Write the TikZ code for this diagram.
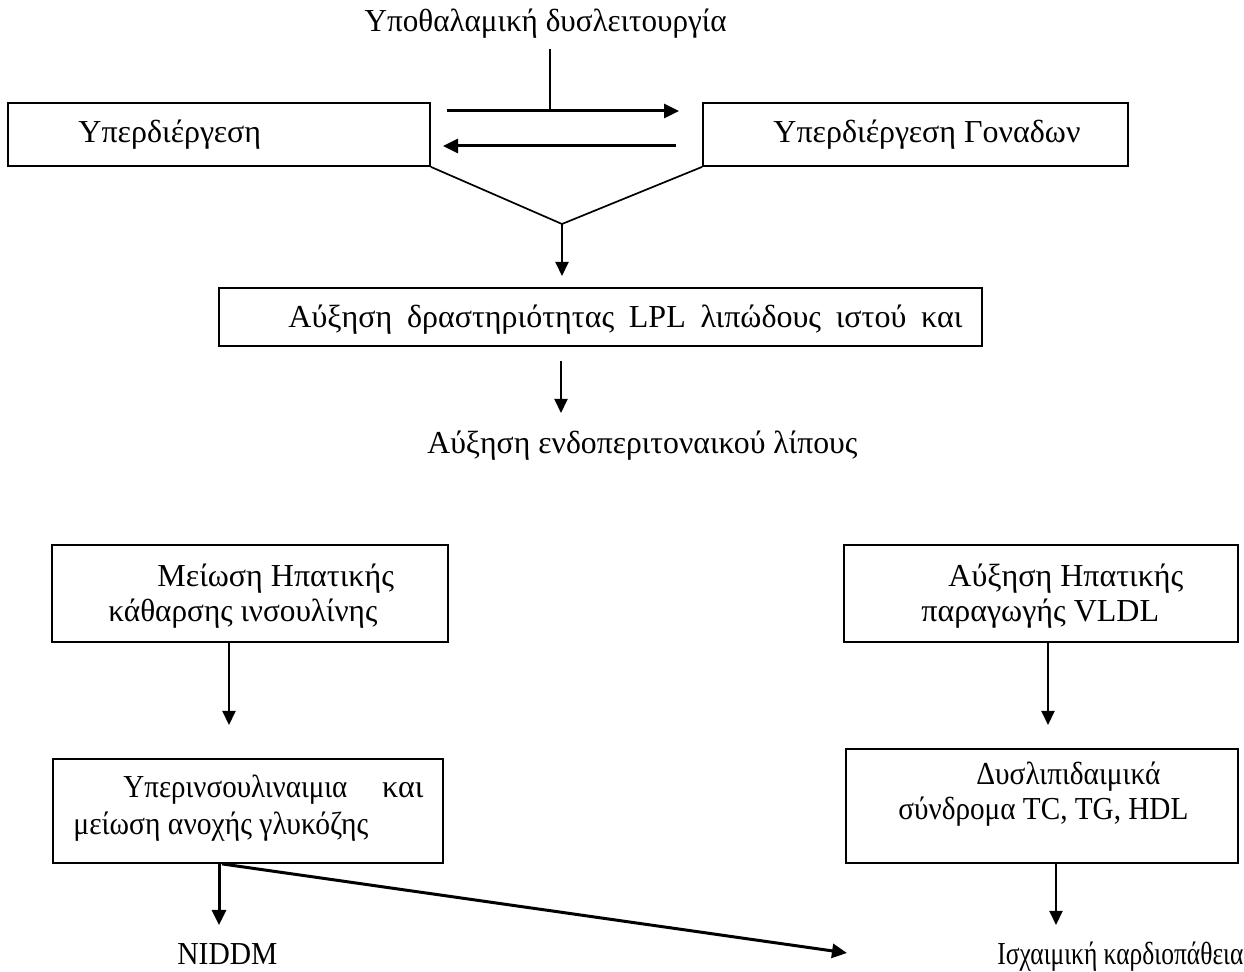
\documentclass[tikz,border=0pt]{standalone}
\usepackage{graphicx}
\usepackage{fontspec}
\setmainfont{Liberation Serif}
\usetikzlibrary{arrows.meta,fit}
\newcommand\fitw[2]{\resizebox{#1}{\height}{#2}}
\begin{document}
\begin{tikzpicture}[x=0.5pt,y=-0.5pt,
  box/.style={draw, line width=0.9pt, inner sep=0pt},
  txt/.style={inner sep=0pt, anchor=base west, font=\fontsize{16}{19}\selectfont},
  plainline/.style={line width=0.85pt},
  conn/.style={line width=1pt, -{Triangle[length=7pt,width=6.5pt]}},
  boldconn/.style={line width=1.5pt, -{Triangle[length=7.5pt,width=7pt]}}]
\fill[white] (0,0) rectangle (1244,972);
\useasboundingbox (0,0) rectangle (1244,972);
% texts and boxes
\node[txt, anchor=base east] (title) at (727,32) {\fitw{181pt}{Υποθαλαμική δυσλειτουργία}};
\node[box, fit={(8,103) (430,166)}] (hyper) {};
\node[txt] (hypert) at (78,143) {Υπερδιέργεση};
\node[box, fit={(703,103) (1128,166)}] (gonad) {};
\node[txt] (gonadt) at (773,143) {Υπερδιέργεση Γοναδων};
\node[box, fit={(219,288) (982,346)}] (lpl) {};
\node[txt] (lplt) at (288,328) {\makebox[337pt][s]{Αύξηση δραστηριότητας LPL λιπώδους ιστού και}};
\node[txt] (fat) at (427,454) {\fitw{215pt}{Αύξηση ενδοπεριτοναικού λίπους}};
\node[box, fit={(52,545) (448,642)}] (clear) {};
\node[txt] (clear1) at (157,587) {Μείωση Ηπατικής};
\node[txt] (clear2) at (108,622) {\fitw{134.5pt}{κάθαρσης ινσουλίνης}};
\node[box, fit={(844,545) (1238,642)}] (vldl) {};
\node[txt] (vldl1) at (948,587) {Αύξηση Ηπατικής};
\node[txt] (vldl2) at (921,622) {παραγωγής VLDL};
\node[box, fit={(53,759) (443,863)}] (hins) {};
\node[txt] (hins1) at (123,798) {\makebox[150pt][s]{\fitw{112pt}{Υπερινσουλιναιμια} και}};
\node[txt] (hins2) at (73,835) {\fitw{147.5pt}{μείωση ανοχής γλυκόζης}};
\node[box, fit={(846,749) (1238,863)}] (dysl) {};
\node[txt] (dysl1) at (976,785) {\fitw{92pt}{Δυσλιπιδαιμικά}};
\node[txt] (dysl2) at (898,820) {\fitw{145pt}{σύνδρομα TC, TG, HDL}};
\node[txt] (niddm) at (177,965) {\fitw{50pt}{NIDDM}};
\node[txt] (ihd) at (997,965) {\fitw{123pt}{Ισχαιμική καρδιοπάθεια}};
% free connector ends
\coordinate (hyptop) at (550,49);
\coordinate (hypjoin) at (550,111);
\coordinate (ra1) at (447,111);
\coordinate (ra2) at (679,111);
\coordinate (la1) at (676,146);
\coordinate (la2) at (443,146);
\coordinate (apex) at (562,224);
\coordinate (lplin) at (562,276);
\coordinate (lplout) at (561,361);
\coordinate (fatin) at (561,413);
\coordinate (a1) at (229,725);
\coordinate (a2) at (1048,725);
\coordinate (a3) at (219,925);
\coordinate (a4) at (1056,925);
\coordinate (diagend) at (847,953);
% connectors
\draw[plainline] (hyptop) -- (hypjoin);
\draw[boldconn] (ra1) -- (ra2);
\draw[boldconn] (la1) -- (la2);
\draw[plainline] (hyper.south east) -- (apex) -- (gonad.south west);
\draw[conn] (apex) -- (lplin);
\draw[conn] (lplout) -- (fatin);
\draw[conn] (clear.south -| a1) -- (a1);
\draw[conn] (vldl.south -| a2) -- (a2);
\draw[boldconn] (hins.south -| a3) -- (a3);
\draw[boldconn] ([xshift=1.5pt]hins.south -| a3) -- (diagend);
\draw[conn] (dysl.south -| a4) -- (a4);
\end{tikzpicture}
\end{document}
